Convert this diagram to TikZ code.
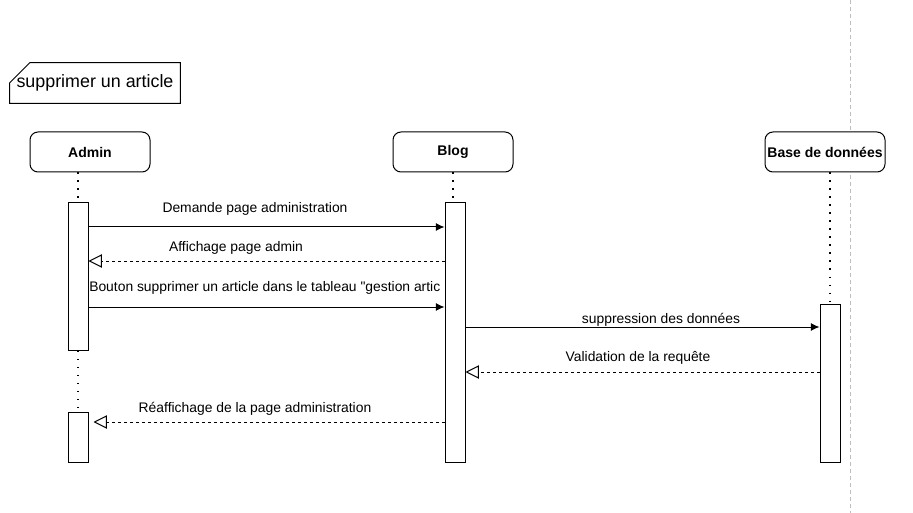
\documentclass[tikz,border=0pt]{standalone}
\usepackage{fontspec}
\setmainfont{Liberation Sans}[Ligatures=TeXOff]
\usepackage{xcolor}
\usepackage{tikz}
\usetikzlibrary{arrows.meta,positioning,calc}
\definecolor{seqLine}{RGB}{0,0,0}
\definecolor{seqGuide}{RGB}{190,190,190}
\tikzset{
  headbox/.style={rectangle, draw=seqLine, fill=white, line width=0.75pt, rounded corners=6pt,
    minimum width=90pt, minimum height=30pt, align=center, inner sep=0pt,
    font=\fontsize{10.5pt}{12pt}\selectfont\bfseries},
  actbox/.style={rectangle, draw=seqLine, fill=white, line width=0.75pt,
    minimum width=15pt, inner sep=0pt},
  framelabel/.style={rectangle, minimum width=127.5pt, minimum height=30pt, inner sep=0pt,
    font=\fontsize{13.4pt}{15pt}\selectfont},
  msglabel/.style={inner sep=0pt, font=\fontsize{10.4pt}{12pt}\selectfont},
  lifeline/.style={draw=seqLine, line width=1.4pt, dash pattern=on 1.4pt off 4.6pt},
  guideline/.style={draw=seqGuide, line width=0.75pt, dash pattern=on 3pt off 2.25pt},
  callarrow/.style={-{Latex[length=6.5pt,width=6pt]}, draw=seqLine, line width=0.75pt},
  replyarrow/.style={-{Triangle[open,length=10pt,width=10pt]}, draw=seqLine, line width=0.75pt,
    dash pattern=on 2.25pt off 2.25pt},
}

\begin{document}
\begin{tikzpicture}[x=0.75pt,y=-0.75pt]
  \useasboundingbox (0,0) rectangle (913,513);

  % --- Frame and guide ---
  \node[framelabel] (title) at (95,83) {supprimer un article};
  \draw[line width=0.75pt] ($(title.north west)+(20,0)$) -- (title.north east) -- (title.south east)
    -- (title.south west) -- ($(title.north west)+(0,20)$) -- cycle;
  \draw[guideline] (850,0) -- (850,513);

  % --- Participants ---
  \node[headbox] (admin) at (90,152) {Admin};
  \node[headbox] (blog) at (453,152) {Blog};
  \node[headbox] (bdd) at (825,152) {Base de données};

  % --- Message rows ---
  \coordinate (m1) at (0,227);
  \coordinate (m2) at (0,261);
  \coordinate (m3) at (0,307);
  \coordinate (m4) at (0,327);
  \coordinate (m5) at (0,372);
  \coordinate (m6) at (0,422);

  % --- Labels (drawn first, the bars hide what runs over) ---
  \node[msglabel] (l1) at (255,209) {Demande page administration};
  \node[msglabel] (l2) at (236,248) {Affichage page admin};
  \node[msglabel, anchor=west] (l3) at (89,288) {Bouton supprimer un article dans le tableau "gestion artic};
  \node[msglabel] (l4) at (661,320) {suppression des données};
  \node[msglabel] (l5) at (638,358) {Validation de la requête};
  \node[msglabel] (l6) at (255,409) {Réaffichage de la page administration};

  % --- Activation bars ---
  \node[actbox, minimum height=110.25pt] (adminact) at (78,276.5) {};
  \node[actbox, minimum height=37.5pt] (adminret) at (78,437) {};
  \node[actbox, minimum height=194.25pt] (blogact) at (455,332.5) {};
  \node[actbox, minimum height=118.5pt] (bddact) at (830,383) {};

  % --- Lifelines ---
  \draw[lifeline] (adminact.north |- admin.south) -- (adminact.north);
  \draw[lifeline] (adminact.south) -- (adminret.north);
  \draw[lifeline] ([xshift=-1.5pt]blogact.north |- blog.south) -- ([xshift=-1.5pt]blogact.north);
  \draw[lifeline] (bddact.north |- bdd.south) -- (bddact.north);

  % --- Messages ---
  \draw[callarrow] (adminact.east |- m1) -- (blogact.west |- m1);
  \draw[replyarrow] (blogact.west |- m2) -- (adminact.east |- m2);
  \draw[callarrow] (adminact.east |- m3) -- (blogact.west |- m3);
  \draw[callarrow] (blogact.east |- m4) -- (bddact.west |- m4);
  \draw[replyarrow] (bddact.west |- m5) -- (blogact.east |- m5);
  \draw[replyarrow] (blogact.west |- m6) -- ([xshift=3.75pt]adminret.east |- m6);
\end{tikzpicture}
\end{document}
